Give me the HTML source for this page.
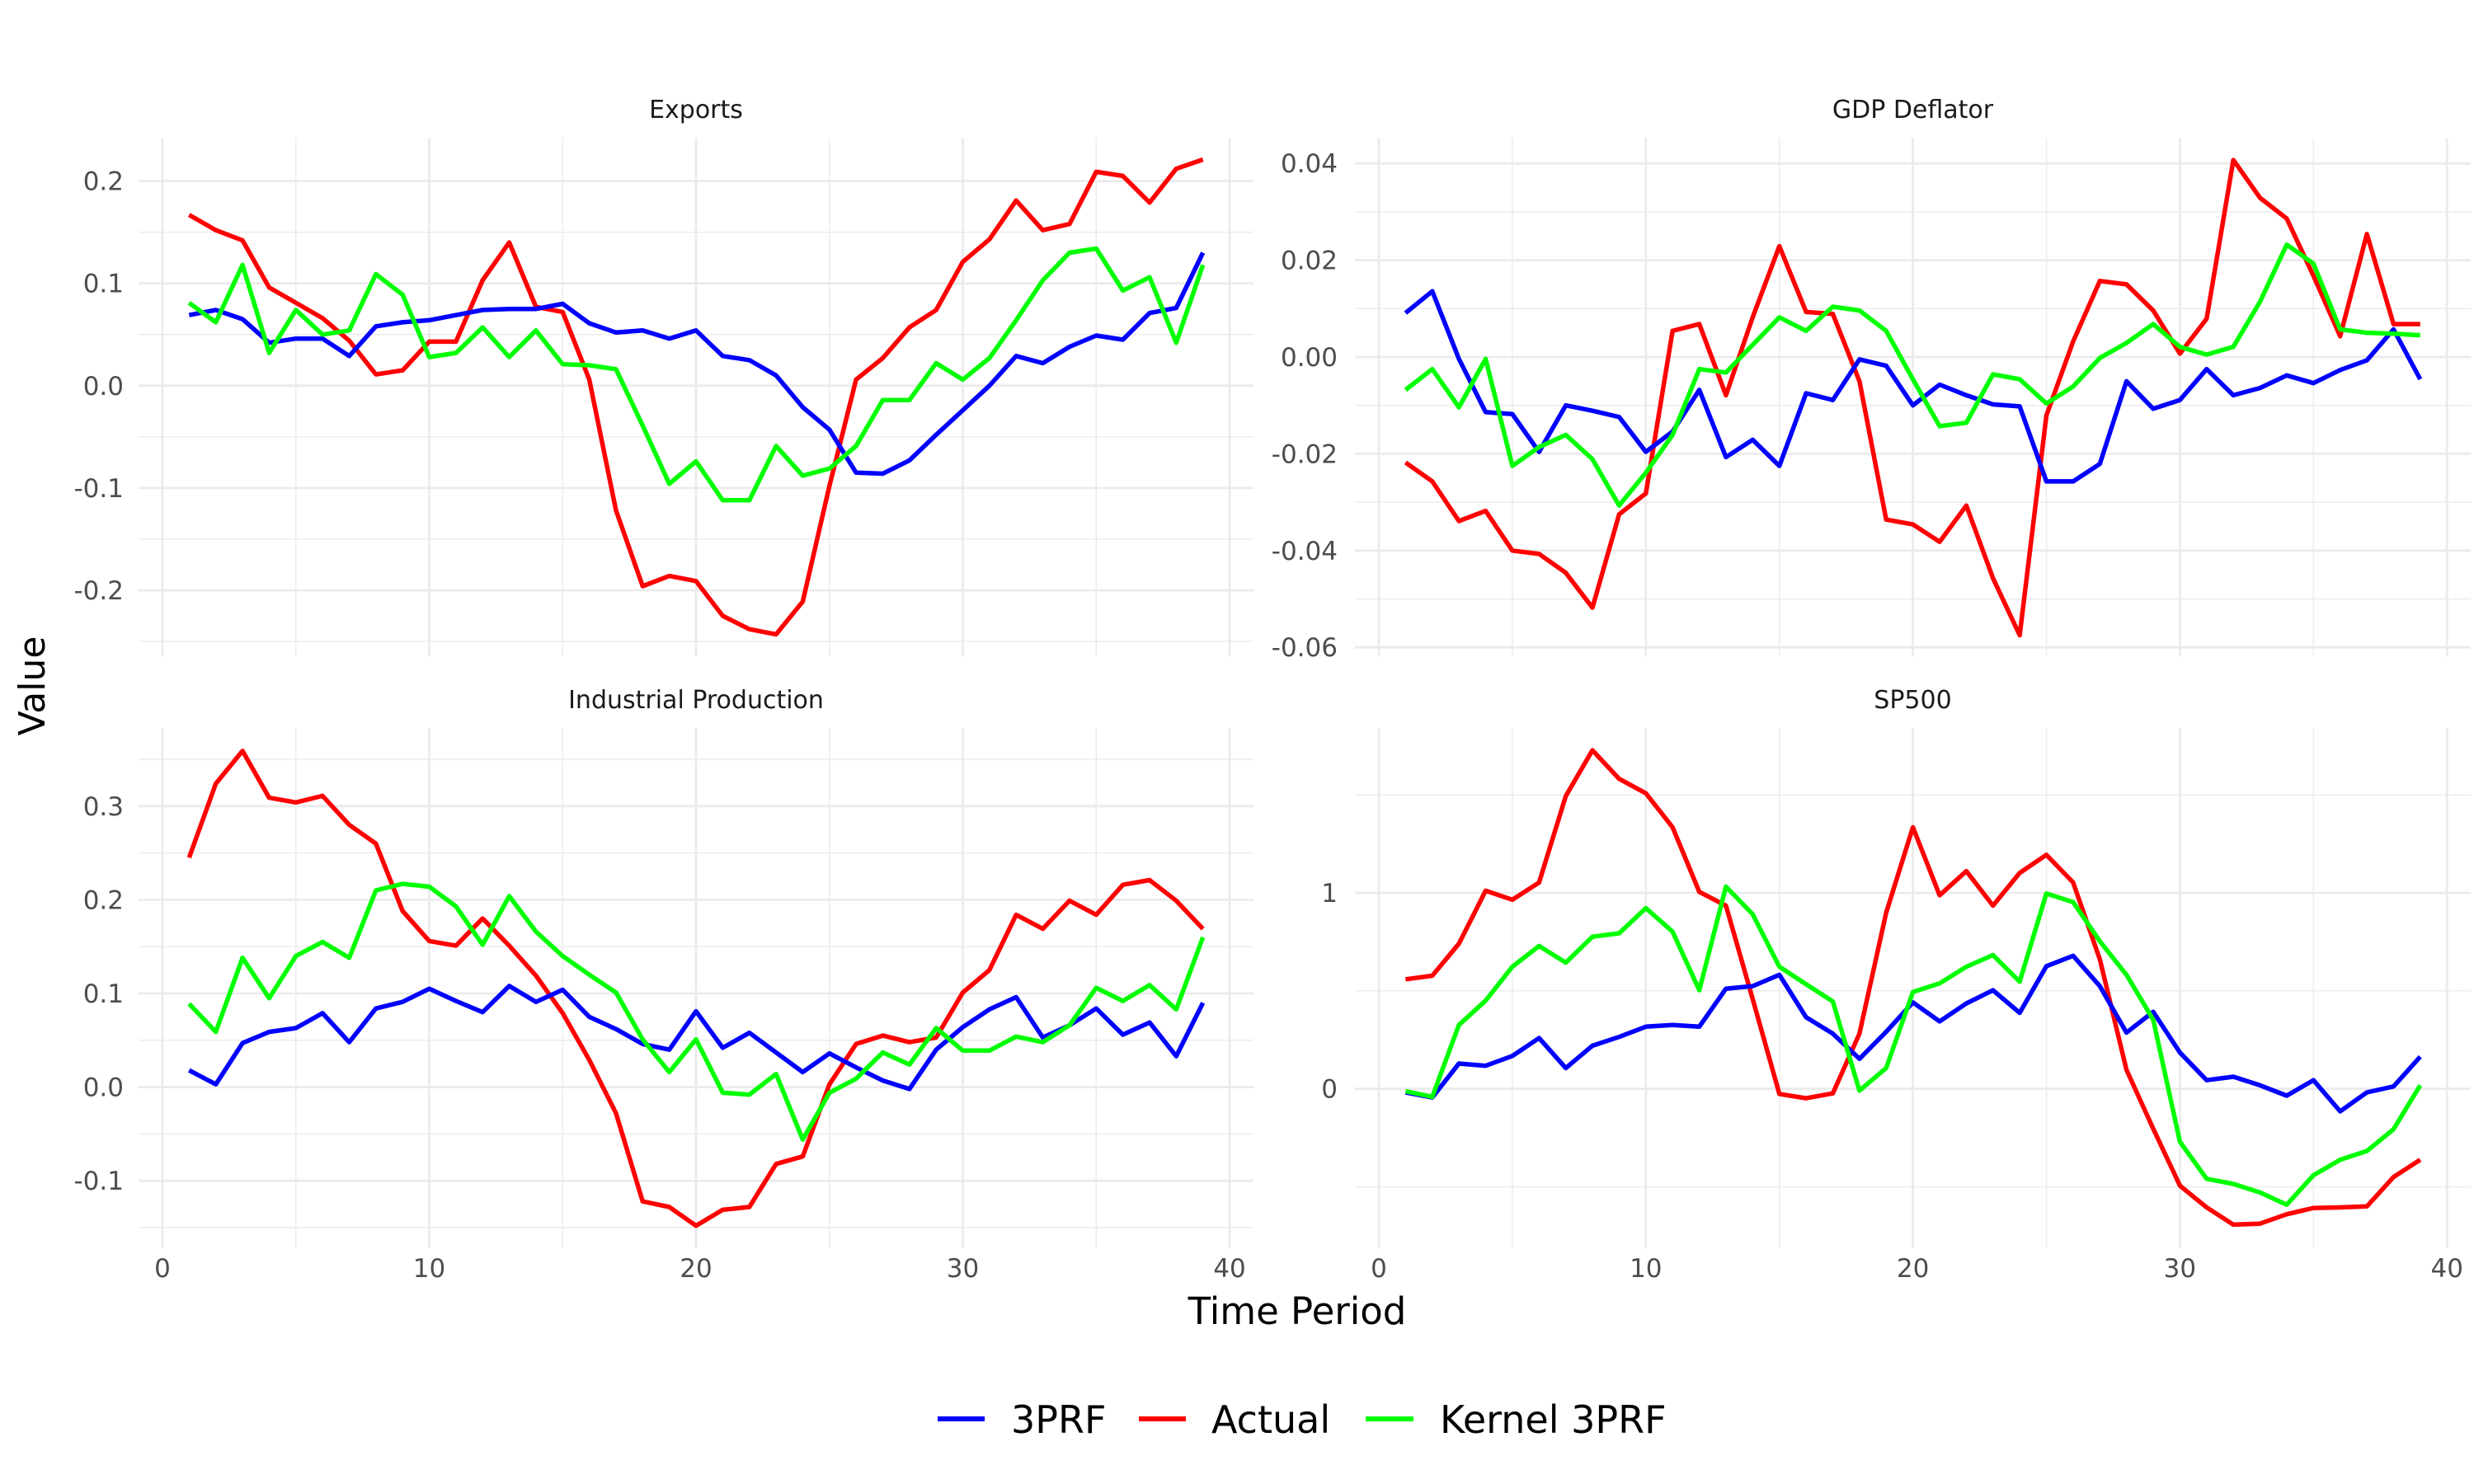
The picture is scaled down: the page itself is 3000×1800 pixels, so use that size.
<!DOCTYPE html>
<html><head><meta charset="utf-8"><style>
html,body{margin:0;padding:0;background:#fff;}
svg{display:block;font-family:"DejaVu Sans","Liberation Sans",sans-serif;}
</style></head><body>
<svg id="chart" width="3000" height="1800" viewBox="0 0 3000 1800" xmlns="http://www.w3.org/2000/svg">
<rect width="3000" height="1800" fill="#fff"/>
<g id="layer"></g>
<text x="0" y="0" transform="translate(54,832) rotate(-90)" text-anchor="middle" font-size="44" fill="#000">Value</text>
<text x="1573" y="1606" text-anchor="middle" font-size="45" fill="#000">Time Period</text>
<g>
<line x1="1137" y1="1721" x2="1194" y2="1721" stroke="#0000ff" stroke-width="6"/>
<text x="1226" y="1738" font-size="46" fill="#000">3PRF</text>
<line x1="1381" y1="1721" x2="1438" y2="1721" stroke="#ff0000" stroke-width="6"/>
<text x="1469" y="1738" font-size="46" fill="#000">Actual</text>
<line x1="1656" y1="1721" x2="1714" y2="1721" stroke="#00ff00" stroke-width="6"/>
<text x="1746" y="1738" font-size="46" fill="#000">Kernel 3PRF</text>
</g>
</svg>
<script>
const periods = Array.from({length:39},(_, i)=>i+1);
const xTicks = [0,10,20,30,40];
const panelTitles = ["Exports","GDP Deflator","Industrial Production","SP500"];

const exportsActual = [0.167,0.152,0.142,0.096,0.081,0.066,0.044,0.011,0.015,0.043,0.043,0.103,0.140,0.077,0.072,0.006,-0.122,-0.196,-0.186,-0.191,-0.225,-0.238,-0.243,-0.211,-0.098,0.006,0.027,0.057,0.074,0.121,0.143,0.181,0.152,0.158,0.209,0.205,0.179,0.212,0.221];
const exports3prf = [0.069,0.074,0.065,0.042,0.046,0.046,0.029,0.058,0.062,0.064,0.069,0.074,0.075,0.075,0.080,0.061,0.052,0.054,0.046,0.054,0.029,0.025,0.010,-0.021,-0.043,-0.085,-0.086,-0.073,-0.048,-0.024,0.000,0.029,0.022,0.038,0.049,0.045,0.071,0.076,0.130];
const exportsKernel = [0.081,0.062,0.118,0.032,0.074,0.050,0.054,0.109,0.089,0.028,0.032,0.057,0.028,0.054,0.021,0.020,0.016,-0.039,-0.096,-0.074,-0.112,-0.112,-0.059,-0.088,-0.081,-0.059,-0.014,-0.014,0.022,0.006,0.027,0.064,0.103,0.130,0.134,0.093,0.106,0.042,0.118];

const gdpActual = [-0.0218,-0.0257,-0.0339,-0.0318,-0.0400,-0.0407,-0.0446,-0.0518,-0.0325,-0.0282,0.0054,0.0068,-0.0079,0.0082,0.0229,0.0093,0.0089,-0.0050,-0.0336,-0.0346,-0.0382,-0.0307,-0.0457,-0.0575,-0.0121,0.0032,0.0157,0.0150,0.0096,0.0007,0.0079,0.0407,0.0329,0.0286,0.0168,0.0043,0.0254,0.0068,0.0068];
const gdp3prf = [0.0091,0.0136,-0.0004,-0.0114,-0.0118,-0.0196,-0.0100,-0.0111,-0.0124,-0.0196,-0.0154,-0.0068,-0.0207,-0.0171,-0.0225,-0.0075,-0.0089,-0.0005,-0.0018,-0.0100,-0.0057,-0.0079,-0.0098,-0.0102,-0.0257,-0.0257,-0.0221,-0.0050,-0.0107,-0.0089,-0.0025,-0.0079,-0.0064,-0.0038,-0.0054,-0.0027,-0.0007,0.0057,-0.0046];
const gdpKernel = [-0.0068,-0.0025,-0.0104,-0.0004,-0.0225,-0.0186,-0.0161,-0.0211,-0.0307,-0.0239,-0.0161,-0.0025,-0.0032,0.0025,0.0082,0.0054,0.0104,0.0096,0.0054,-0.0046,-0.0143,-0.0136,-0.0036,-0.0046,-0.0096,-0.0061,-0.0002,0.0029,0.0068,0.0021,0.0005,0.0021,0.0114,0.0232,0.0193,0.0057,0.0050,0.0048,0.0045];

const ipActual = [0.245,0.324,0.359,0.309,0.304,0.311,0.280,0.260,0.188,0.156,0.151,0.180,0.151,0.119,0.079,0.029,-0.028,-0.122,-0.128,-0.148,-0.131,-0.128,-0.082,-0.074,0.003,0.046,0.055,0.048,0.053,0.101,0.125,0.184,0.169,0.199,0.184,0.216,0.221,0.199,0.169];
const ip3prf = [0.018,0.003,0.047,0.059,0.063,0.079,0.048,0.084,0.091,0.105,0.092,0.080,0.108,0.091,0.104,0.075,0.062,0.046,0.040,0.081,0.042,0.058,0.037,0.016,0.036,0.021,0.007,-0.002,0.040,0.064,0.083,0.096,0.053,0.066,0.084,0.056,0.069,0.033,0.090];
const ipKernel = [0.089,0.059,0.138,0.095,0.140,0.155,0.138,0.210,0.217,0.214,0.193,0.152,0.204,0.166,0.140,0.120,0.101,0.051,0.016,0.051,-0.006,-0.008,0.014,-0.056,-0.006,0.009,0.037,0.024,0.063,0.039,0.039,0.054,0.048,0.066,0.106,0.092,0.109,0.083,0.160];

const spActual = [0.559,0.577,0.741,1.011,0.965,1.053,1.494,1.728,1.582,1.508,1.335,1.005,0.935,0.459,-0.026,-0.048,-0.023,0.282,0.899,1.335,0.988,1.111,0.935,1.102,1.194,1.053,0.661,0.097,-0.203,-0.494,-0.605,-0.693,-0.688,-0.640,-0.608,-0.605,-0.600,-0.450,-0.362];
const sp3prf = [-0.018,-0.044,0.129,0.118,0.168,0.259,0.106,0.220,0.265,0.317,0.326,0.317,0.511,0.524,0.582,0.365,0.282,0.153,0.291,0.441,0.344,0.436,0.503,0.388,0.626,0.679,0.524,0.287,0.393,0.185,0.044,0.062,0.018,-0.035,0.044,-0.115,-0.018,0.012,0.164];
const spKernel = [-0.012,-0.041,0.326,0.450,0.623,0.729,0.644,0.776,0.794,0.922,0.802,0.503,1.032,0.891,0.623,0.534,0.446,-0.009,0.106,0.494,0.538,0.623,0.683,0.547,0.997,0.953,0.753,0.582,0.353,-0.270,-0.459,-0.485,-0.529,-0.591,-0.441,-0.362,-0.317,-0.206,0.018];

const exportsTicks = [-0.2,-0.1,0.0,0.1,0.2];
const exportsTickLabels = ["-0.2","-0.1","0.0","0.1","0.2"];
const gdpTicks = [-0.06,-0.04,-0.02,0.00,0.02,0.04];
const gdpTickLabels = ["-0.06","-0.04","-0.02","0.00","0.02","0.04"];
const ipTicks = [-0.1,0.0,0.1,0.2,0.3];
const ipTickLabels = ["-0.1","0.0","0.1","0.2","0.3"];
const spTicks = [0,1];
const spTickLabels = ["0","1"];

const NS="http://www.w3.org/2000/svg";
const layer=document.getElementById('layer');
function mk(tag,attrs,parent){const e=document.createElementNS(NS,tag);for(const k in attrs)e.setAttribute(k,attrs[k]);(parent||layer).appendChild(e);return e;}

// panel geometry: x0 = pixel of t=0, xu = px per unit; y0 = pixel for value 0, yu = px per unit
const panels=[
 {title:panelTitles[0],name:'exports',left:168,right:1520,top:167,bottom:796,x0:197,xu:32.35,y0:467.8,yu:1241,ticks:exportsTicks,labels:exportsTickLabels,minorStep:0.05,series:[exportsActual,exports3prf,exportsKernel],xlabels:false,labelX:150},
 {title:panelTitles[1],name:'gdp-deflator',left:1643,right:2996,top:167,bottom:796,x0:1672,xu:32.38,y0:433,yu:5870,ticks:gdpTicks,labels:gdpTickLabels,minorStep:0.01,series:[gdpActual,gdp3prf,gdpKernel],xlabels:false,labelX:1622},
 {title:panelTitles[2],name:'industrial-production',left:168,right:1520,top:883,bottom:1514,x0:197,xu:32.35,y0:1318.6,yu:1136,ticks:ipTicks,labels:ipTickLabels,minorStep:0.05,series:[ipActual,ip3prf,ipKernel],xlabels:true,labelX:150},
 {title:panelTitles[3],name:'sp500',left:1643,right:2996,top:883,bottom:1514,x0:1672,xu:32.38,y0:1320.7,yu:237.7,ticks:spTicks,labels:spTickLabels,minorStep:0.5,series:[spActual,sp3prf,spKernel],xlabels:true,labelX:1622}
];
const colors=['#ff0000','#0000ff','#00ff00'];
const seriesNames=['actual','3prf','kernel-3prf'];

panels.forEach(p=>{
  const g=mk('g',{});
  
  
  const X=t=>p.x0+t*p.xu;
  const Y=v=>p.y0-v*p.yu;
  const vMin=(p.top-p.y0)/-p.yu, vMax=(p.bottom-p.y0)/-p.yu; // vMin is top value
  const hi=Math.max(vMin,vMax), lo=Math.min(vMin,vMax);
  // minor horizontal grid
  for(let v=Math.ceil(lo/p.minorStep)*p.minorStep; v<=hi; v+=p.minorStep){
    const l=mk('line',{x1:p.left,x2:p.right,y1:Y(v),y2:Y(v),stroke:'#ebebeb','stroke-width':1.4},g);
     
  }
  // minor vertical grid
  for(let t=5;t<=40;t+=10){
    const l=mk('line',{x1:X(t),x2:X(t),y1:p.top,y2:p.bottom,stroke:'#ebebeb','stroke-width':1.4},g);
     
  }
  // major grids
  p.ticks.forEach((v,i)=>{
    const l=mk('line',{x1:p.left,x2:p.right,y1:Y(v),y2:Y(v),stroke:'#ebebeb','stroke-width':2.8},g);
     
    const tx=mk('text',{x:p.labelX,y:Y(v)+11,'text-anchor':'end','font-size':31,fill:'#4d4d4d'},g);
    tx.textContent=p.labels[i];
     
  });
  xTicks.forEach(t=>{
    const l=mk('line',{x1:X(t),x2:X(t),y1:p.top,y2:p.bottom,stroke:'#ebebeb','stroke-width':2.8},g);
     
    if(p.xlabels){
      const tx=mk('text',{x:X(t),y:1549,'text-anchor':'middle','font-size':31,fill:'#4d4d4d'},g);
      tx.textContent=String(t);
       
    }
  });
  const st=mk('text',{x:(p.left+p.right)/2,y:p.top-24,'text-anchor':'middle','font-size':30,fill:'#1a1a1a'},g);
  st.textContent=p.title;
   
  p.series.forEach((arr,si)=>{
    const d=arr.map((v,i)=>(i?'L':'M')+X(periods[i]).toFixed(1)+' '+Y(v).toFixed(1)).join(' ');
    const path=mk('path',{d:d,fill:'none',stroke:colors[si],'stroke-width':5.5,'stroke-linejoin':'round'},g);
    
    
  });
});
</script>
</body></html>
